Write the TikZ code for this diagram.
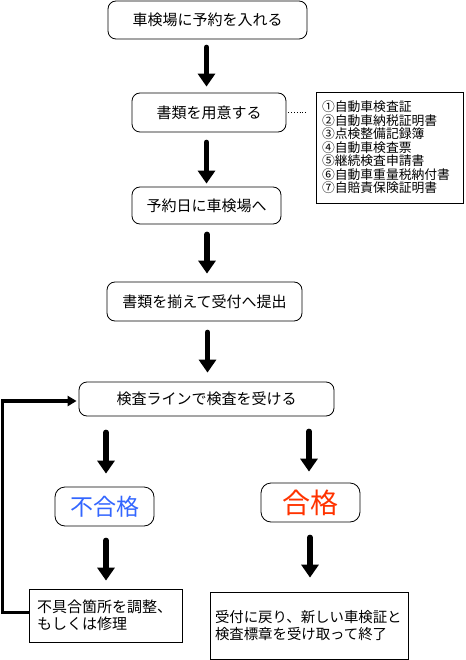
\documentclass[tikz,border=0pt]{standalone}
\usepackage{fontspec}
\setmainfont{Noto Sans CJK JP}
\usetikzlibrary{arrows.meta,calc}
\definecolor{ngblue}{RGB}{51,102,255}
\definecolor{okred}{RGB}{255,51,0}
\begin{document}
\begin{tikzpicture}[x=1pt,y=-1pt,
  rbox/.style={draw, rounded corners=8pt, line width=0.8pt, inner sep=0pt, font=\fontsize{15}{18}\selectfont},
  sqbox/.style={draw, line width=0.8pt},
  bigarrow/.style={line width=5.5pt, line cap=round, -{Triangle[width=17pt,length=13pt]}},
  fbline/.style={line width=3.5pt, -{Triangle[width=10pt,length=9pt]}},
]
\useasboundingbox (0,0) rectangle (465,660);
\node[rbox, minimum width=199pt, minimum height=38pt] (b1) at (207.5,20) {車検場に予約を入れる};
\node[rbox, minimum width=154pt, minimum height=39pt] (b2) at (209,112.5) {書類を用意する};
\node[sqbox, minimum width=147pt, minimum height=111pt, text width=135pt, inner xsep=6pt, inner ysep=0pt, align=left, font=\fontsize{12.8}{13.5}\selectfont] (list) at (389.5,147.5)
  {①自動車検査証\\②自動車納税証明書\\③点検整備記録簿\\④自動車検査票\\⑤継続検査申請書\\⑥自動車重量税納付書\\⑦自賠責保険証明書};
\node[rbox, minimum width=149pt, minimum height=37pt] (b3) at (206.5,205.5) {予約日に車検場へ};
\node[rbox, minimum width=195pt, minimum height=39pt] (b4) at (204.5,301.5) {書類を揃えて受付へ提出};
\node[rbox, minimum width=255pt, minimum height=34pt] (b5) at (206.5,399) {検査ラインで検査を受ける};
\node[rbox, rounded corners=10pt, minimum width=99pt, minimum height=39pt, text=ngblue, font=\fontsize{23}{26}\selectfont] (fail) at (104.5,506.5) {不合格};
\node[rbox, rounded corners=10pt, minimum width=99pt, minimum height=39pt, text=okred, font=\fontsize{28}{30}\selectfont] (pass) at (310.5,502.5) {合格};
\node[sqbox, minimum width=153pt, minimum height=53pt, text width=137pt, inner xsep=8pt, inner ysep=0pt, align=left, font=\fontsize{15}{17}\selectfont] (fix) at (105.5,615.5)
  {不具合箇所を調整、\\もしくは修理};
\node[sqbox, minimum width=198pt, minimum height=67pt, text width=188pt, inner xsep=5pt, inner ysep=0pt, align=left, font=\fontsize{14.4}{16.5}\selectfont] (end) at (309,625.5)
  {受付に戻り、新しい車検証と\\検査標章を受け取って終了};
% main arrows
\draw[bigarrow] ($(b1.south)+(-1,8)$) -- ($(b2.north)+(-2.5,-6)$);
\draw[bigarrow] ($(b2.south)+(-2.5,10)$) -- ($(b3.north)+(0,-3)$);
\draw[bigarrow] ($(b3.south)+(0.5,10)$) -- ($(b4.north)+(2.5,-8)$);
\draw[bigarrow] ($(b4.south)+(3,11)$) -- ($(b5.north)+(1,-9)$);
\draw[bigarrow] ($(fail.north |- b5.south)+(1.5,16)$) -- ($(fail.north)+(1.5,-13)$);
\draw[bigarrow] ($(pass.north |- b5.south)+(-1.5,15)$) -- ($(pass.north)+(-1.5,-11)$);
\draw[bigarrow] ($(fail.south)+(1.5,14)$) -- ($(fix.north)+(0.5,-8)$);
\draw[bigarrow] ($(pass.south)+(-0.5,15)$) -- ($(end.north)+(1,-14)$);
% dotted link
\draw[line width=0.8pt, dotted] ($(b2.east)+(2,0)$) -- ($(b2.east -| list.west)+(-9,0)$);
% feedback loop
\draw[fbline] ($(fix.west)+(0,-3)$) -- ++(-26,0) |- ($(b5.west)+(-2,2)$);
\end{tikzpicture}
\end{document}
